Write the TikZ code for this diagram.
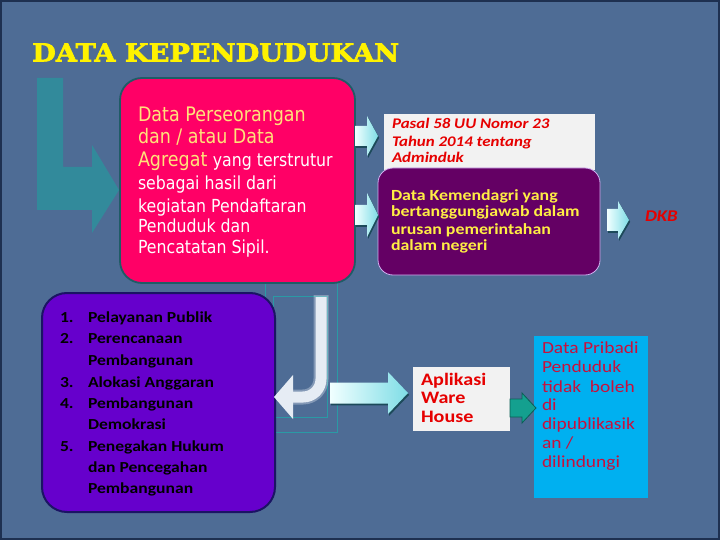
\documentclass[tikz,border=0pt]{standalone}
\usepackage{fontspec}
\setmainfont{DejaVu Sans}
\newfontfamily\tahfont{DejaVu Sans}[FakeStretch=0.875]
\newfontfamily\calfont{Carlito}[FakeStretch=1.15]
\newfontfamily\ttlfont{DejaVu Serif}[FakeBold=2.5]
\usetikzlibrary{calc}
\definecolor{bg}{HTML}{4E6C95}
\definecolor{bgedge}{HTML}{1E3050}
\definecolor{pinkfill}{HTML}{FF0066}
\definecolor{pinkedge}{HTML}{1F5C66}
\definecolor{pinkyellow}{HTML}{FFE27A}
\definecolor{kemfill}{HTML}{640064}
\definecolor{kemedge}{HTML}{D0B0F0}
\definecolor{kemyellow}{HTML}{FFEE44}
\definecolor{listfill}{HTML}{6600CC}
\definecolor{listedge}{HTML}{1B1464}
\definecolor{paper}{HTML}{F2F2F2}
\definecolor{redtxt}{HTML}{E60000}
\definecolor{skyfill}{HTML}{00B0F0}
\definecolor{crimson}{HTML}{C8103C}
\definecolor{tealL}{HTML}{2F8E9C}
\definecolor{tealline}{HTML}{2A9AA5}
\definecolor{jcol}{HTML}{E6ECF4}
\definecolor{cyanlight}{HTML}{F0FFFF}
\definecolor{cyandark}{HTML}{7FDDE6}
\definecolor{arrshadow}{HTML}{1C4A5A}
\definecolor{greenfill}{HTML}{14A08F}
\definecolor{greenedge}{HTML}{0B5F55}
\newcommand\blockarr[6]{%
  \fill[arrshadow,shift={(1.2,1.8)}] (#1,#4-#5) -- (#2,#4-#5) -- (#2,#4-#6) -- (#3,#4) -- (#2,#4+#6) -- (#2,#4+#5) -- (#1,#4+#5) -- cycle;
  \shade[left color=cyanlight,right color=cyandark] (#1,#4-#5) -- (#2,#4-#5) -- (#2,#4-#6) -- (#3,#4) -- (#2,#4+#6) -- (#2,#4+#5) -- (#1,#4+#5) -- cycle;}
\begin{document}
\begin{tikzpicture}[x=1pt,y=-1pt,
  box/.style={inner sep=0pt,outer sep=0pt,anchor=north west},
  ln/.style={inner sep=0pt,outer sep=0pt,anchor=base west},
  pinkline/.style={ln,text=white,font=\tahfont\fontsize{18}{21}\selectfont},
  pinkbig/.style={ln,text=pinkyellow,font=\tahfont\fontsize{20}{24}\selectfont},
  pasalline/.style={ln,text=redtxt,font=\calfont\bfseries\itshape\fontsize{14.7}{17}\selectfont},
  kemline/.style={ln,text=kemyellow,font=\calfont\bfseries\fontsize{15.5}{18}\selectfont},
  listline/.style={ln,text=black,font=\calfont\bfseries\fontsize{15.3}{18}\selectfont},
  apline/.style={ln,text=redtxt,font=\calfont\bfseries\fontsize{17.5}{20}\selectfont},
  pribline/.style={ln,text=crimson,font=\calfont\fontsize{16.9}{19}\selectfont}]
\useasboundingbox (0,0) rectangle (720,540);
\fill[bg] (0,0) rectangle (720,540);
\draw[bgedge,line width=2pt] (1,1) rectangle (719,539);

% title
\node[inner sep=0pt,anchor=south west,text=yellow] (title) at (32,62)
  {\resizebox{367pt}{18pt}{\ttlfont\bfseries DATA KEPENDUDUKAN}};

% L arrow
\fill[tealL,opacity=0.9] (37,78) -- (63,78) -- (63,167) -- (92,167) -- (92,145) -- (119,190) -- (92,233) -- (92,210) -- (37,210) -- cycle;

% J frames
\draw[tealline,line width=0.8pt] (265,282) rectangle (337,432);
\draw[tealline,line width=0.8pt] (273,296) rectangle (327,417);

% boxes
\node[box,draw=pinkedge,line width=1.8pt,fill=pinkfill,rounded corners=22pt,minimum width=235pt,minimum height=205pt] (pink) at (120,78) {};
\node[box,draw=listedge,line width=2pt,fill=listfill,rounded corners=25pt,minimum width=233pt,minimum height=219pt] (list) at (42,293) {};
\node[box,fill=paper,minimum width=211pt,minimum height=56pt] (pasal) at (384,114) {};
\node[box,draw=kemedge,line width=0.8pt,fill=kemfill,rounded corners=15pt,minimum width=222pt,minimum height=107pt] (kem) at (378,168) {};
\node[box,fill=paper,minimum width=97pt,minimum height=64pt] (aplik) at (413,367) {};
\node[box,fill=skyfill,minimum width=114pt,minimum height=162pt] (prib) at (534,336) {};

% J arrow
\draw[jcol,opacity=0.35,line width=15pt,rounded corners=18pt] (321,295) -- (321,397) -- (290,397);
\draw[jcol,line width=11pt,rounded corners=18pt] (321,297) -- (321,397) -- (292,397);
\fill[jcol] (293,375) -- (274,397) -- (293,419) -- cycle;

% block arrows
\blockarr{355}{367}{378}{136}{10}{20}
\blockarr{355}{367}{378}{215}{10}{22}
\blockarr{607}{618}{629}{220}{11}{19}
\blockarr{330}{388}{408}{393}{10.5}{21}
\fill[greenfill,draw=greenedge,line width=0.8pt] (510,399) -- (522,399) -- (522,393) -- (536,408) -- (522,423) -- (522,417) -- (510,417) -- cycle;

% pink text
\node[pinkbig] (p1) at (138,122) {Data Perseorangan};
\node[pinkbig] (p2) at (138,144) {dan / atau Data};
\node[pinkbig] (p3) at (138,167) {Agregat {\color{white}\fontsize{18}{21}\selectfont yang terstrutur}};
\node[pinkline] (p4) at (138,190) {sebagai hasil dari};
\node[pinkline] (p5) at (138,212) {kegiatan Pendaftaran};
\node[pinkline] (p6) at (138,233) {Penduduk dan};
\node[pinkline] (p7) at (138,254) {Pencatatan Sipil.};

% pasal text
\node[pasalline] (q1) at (392,129) {Pasal 58 UU Nomor 23};
\node[pasalline] (q2) at (392,147) {Tahun 2014 tentang};
\node[pasalline] (q3) at (392,163) {Adminduk};

% kemendagri text
\node[kemline] (k1) at (391,201) {Data Kemendagri yang};
\node[kemline] (k2) at (391,217) {bertanggungjawab dalam};
\node[kemline] (k3) at (391,234) {urusan pemerintahan};
\node[kemline] (k4) at (391,251) {dalam negeri};

% DKB
\node[ln,text=redtxt,font=\calfont\bfseries\itshape\fontsize{16.4}{19}\selectfont] (dkb) at (645,222) {DKB};

% list
\node[listline] (n1) at (60,322) {1.};
\node[listline] (n2) at (60,343) {2.};
\node[listline] (n3) at (60,387) {3.};
\node[listline] (n4) at (60,408) {4.};
\node[listline] (n5) at (60,451) {5.};
\node[listline] (l1) at (88,322) {Pelayanan Publik};
\node[listline] (l2) at (88,343) {Perencanaan};
\node[listline] (l3) at (88,365) {Pembangunan};
\node[listline] (l4) at (88,387) {Alokasi Anggaran};
\node[listline] (l5) at (88,408) {Pembangunan};
\node[listline] (l6) at (88,429) {Demokrasi};
\node[listline] (l7) at (88,451) {Penegakan Hukum};
\node[listline] (l8) at (88,472) {dan Pencegahan};
\node[listline] (l9) at (88,493) {Pembangunan};

% aplikasi
\node[apline] (a1) at (421,385) {Aplikasi};
\node[apline] (a2) at (421,403) {Ware};
\node[apline] (a3) at (421,422) {House};

% pribadi
\node[pribline] (r1) at (542,353) {Data Pribadi};
\node[pribline] (r2) at (542,372) {Penduduk};
\node[pribline] (r3) at (542,392) {tidak~ boleh};
\node[pribline] (r4) at (542,410) {di};
\node[pribline] (r5) at (542,429) {dipublikasik};
\node[pribline] (r6) at (542,448) {an /};
\node[pribline] (r7) at (542,467) {dilindungi};
\end{tikzpicture}
\end{document}
